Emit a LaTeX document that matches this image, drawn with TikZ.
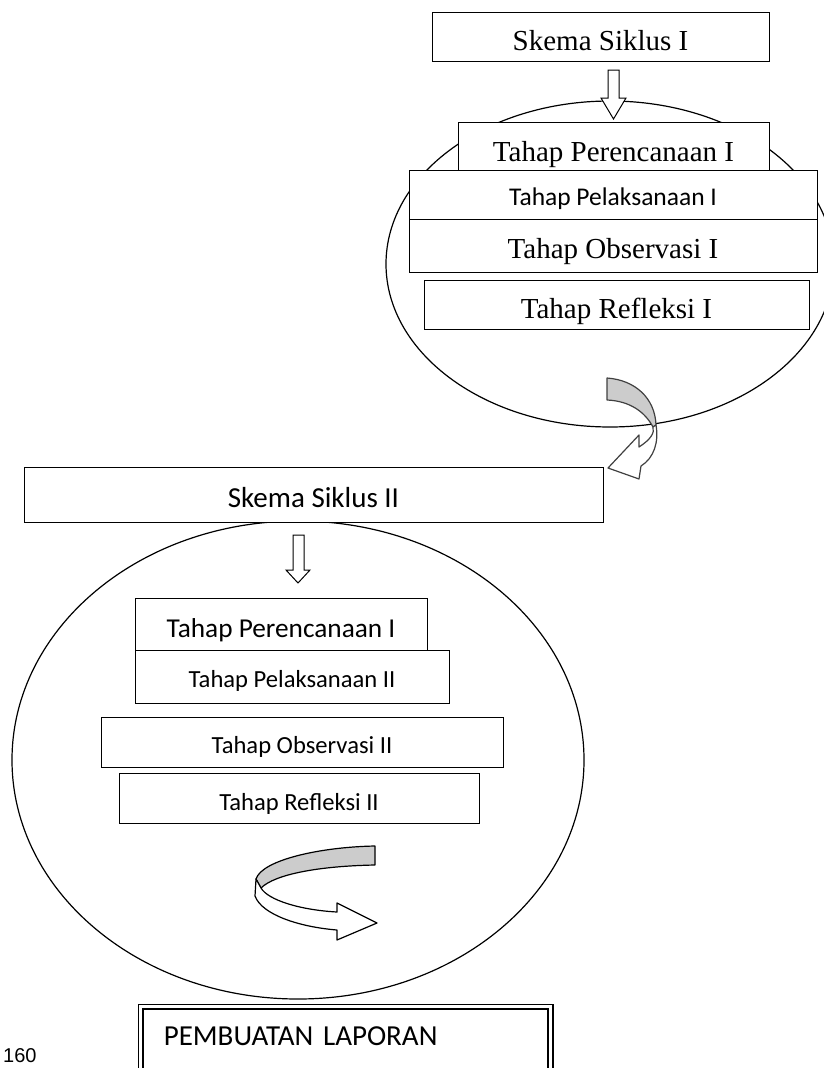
\documentclass[tikz,border=0pt]{standalone}
\usepackage{fontspec}
\setmainfont{Liberation Serif}
\setsansfont{Carlito}
\newfontfamily\halfont{Liberation Sans}
\usetikzlibrary{shapes,positioning}

\begin{document}
\begin{tikzpicture}[x=1pt, y=-1pt,
    kotak/.style={rectangle, draw, fill=white, inner sep=0pt, text depth=0pt, line width=1pt},
    kotakserif/.style={kotak, font=\rmfamily\fontsize{29}{34}\selectfont},
    kotaksans/.style={kotak, font=\sffamily\fontsize{#1}{32}\selectfont},
    lingkaran/.style={ellipse, draw, line width=1.2pt, inner sep=0pt},
    blok/.style={draw, fill=white, line width=1pt, line join=miter},
    pita/.style={draw=#1, line width=1.2pt, line join=round}
]
    \useasboundingbox (0,0) rectangle (823,1068);

    % Siklus I
    \node[lingkaran, minimum width=448pt, minimum height=326pt] (elips1) at (610,264) {};
    \node[kotakserif, minimum width=337pt, minimum height=49pt, text height=27pt] (siklus1) at (600.5,36.5) {Skema Siklus I};
    \node[kotakserif, minimum width=311pt, minimum height=48pt, text height=30pt] (rencana1) at (613.5,146) {Tahap Perencanaan I};
    \node[kotaksans=25.5, minimum width=408pt, minimum height=49pt, text height=21pt] (laksana1) at (613,194.5) {Tahap Pelaksanaan I};
    \node[kotakserif, minimum width=408pt, minimum height=53pt, text height=25pt] (observasi1) at (613,245.5) {Tahap Observasi I};
    \node[kotakserif, minimum width=385pt, minimum height=49pt, text height=27pt] (refleksi1) at (616.5,304.5) {Tahap Refleksi I};

    \draw[blok] (608,70) -- (619,70) -- (619,98) -- (626,98) -- (613.5,119) -- (601,98) -- (608,98) -- cycle;

    % panah lengkung ke siklus II
    \draw[pita=black!75, fill=black!20] (607,378) .. controls (635,380) and (655,398) .. (656,425) -- (653,427) .. controls (645,412) and (630,401) .. (607,400) -- cycle;
    \draw[pita=black!75, fill=white] (656,425) .. controls (659,442) and (654,458) .. (641,466) -- (639,479) -- (608,468) -- (639,435) -- (639,447) .. controls (650,440) and (655,433) .. (653,427) -- cycle;

    % Siklus II
    \node[lingkaran, minimum width=572pt, minimum height=478pt] (elips2) at (298,760) {};
    \node[kotaksans=29, minimum width=579pt, minimum height=55pt, text height=25pt] (siklus2) at (313.5,494.5) {Skema Siklus II};
    \node[kotaksans=27.3, minimum width=292pt, minimum height=52pt, text height=26pt] (rencana2) at (281,624) {Tahap Perencanaan I};
    \node[kotaksans=24.6, minimum width=314pt, minimum height=53pt, text height=21pt] (laksana2) at (292,676.5) {Tahap Pelaksanaan II};
    \node[kotaksans=24.6, minimum width=402pt, minimum height=50pt, text height=22pt] (observasi2) at (302,742) {Tahap Observasi II};
    \node[kotaksans=24.6, minimum width=360pt, minimum height=50pt, text height=24pt] (refleksi2) at (299,798) {Tahap Refleksi II};

    \draw[blok] (293,535) -- (304,535) -- (304,570) -- (310,570) -- (298,583) -- (286,570) -- (293,570) -- cycle;

    % panah lengkung ke laporan
    \draw[pita=black, fill=black!20] (375,846) -- (375,865) .. controls (320,866) and (275,874) .. (261,888) -- (256,879) .. controls (262,860) and (320,847) .. (375,846) -- cycle;
    \draw[pita=black, fill=white] (256,879) -- (255,896) .. controls (262,915) and (300,927) .. (337,930) -- (337,940) -- (377,923) -- (337,903) -- (337,912) .. controls (300,910) and (268,900) .. (261,888) -- cycle;

    % Laporan
    \node[draw, double, double distance=3.2pt, line width=1.6pt, anchor=north west, minimum width=409.5pt, minimum height=110pt,
        inner xsep=23pt, inner ysep=0pt, text width=363.5pt, align=left, text height=0pt, text depth=32pt,
        font=\sffamily\fontsize{29}{32}\selectfont] (laporan) at (140,1006) {PEMBUATAN LAPORAN};

    \node[font=\halfont\fontsize{20}{24}\selectfont, anchor=base west, inner sep=0pt] (halaman) at (3,1062) {160};

\end{tikzpicture}
\end{document}
